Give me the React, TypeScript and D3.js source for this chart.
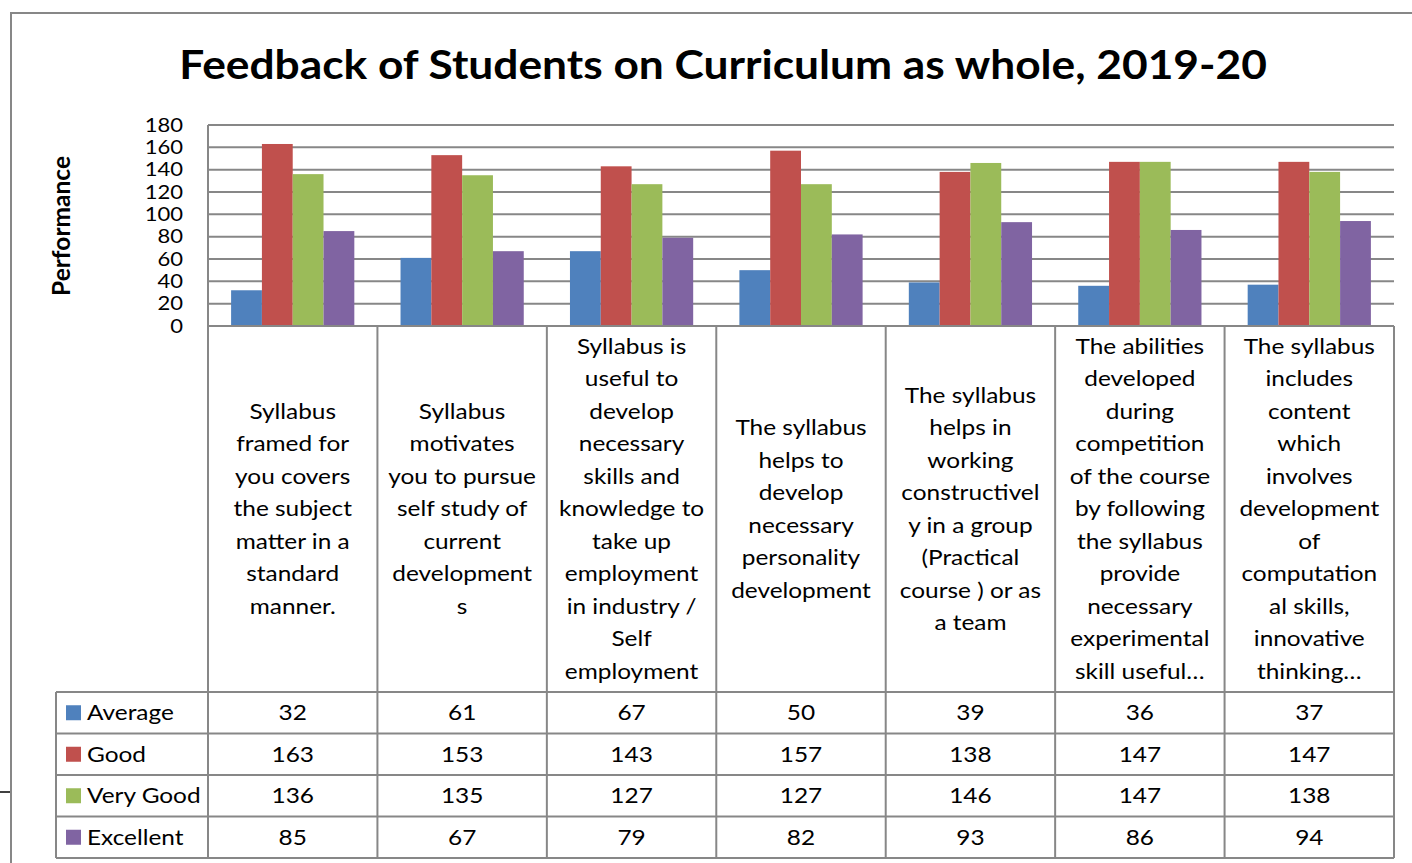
import React from 'react'
import * as d3 from 'd3'

const categories: string[][] = [
  ['Syllabus', 'framed for', 'you covers', 'the subject', 'matter in a', 'standard', 'manner.'],
  ['Syllabus', 'motivates', 'you to pursue', 'self study of', 'current', 'development', 's'],
  ['Syllabus is', 'useful to', 'develop', 'necessary', 'skills and', 'knowledge to', 'take up', 'employment', 'in industry /', 'Self', 'employment'],
  ['The syllabus', 'helps to', 'develop', 'necessary', 'personality', 'development'],
  ['The syllabus', 'helps in', 'working', 'constructivel', 'y in a group', '(Practical', 'course ) or as', 'a team'],
  ['The abilities', 'developed', 'during', 'competition', 'of the course', 'by following', 'the syllabus', 'provide', 'necessary', 'experimental', 'skill useful…'],
  ['The syllabus', 'includes', 'content', 'which', 'involves', 'development', 'of', 'computation', 'al skills,', 'innovative', 'thinking…'],
]

const seriesNames = ['Average', 'Good', 'Very Good', 'Excellent']
const seriesColors = ['#4F81BD', '#C0504D', '#9BBB59', '#8064A2']

const average = [32, 61, 67, 50, 39, 36, 37]
const good = [163, 153, 143, 157, 138, 147, 147]
const veryGood = [136, 135, 127, 127, 146, 147, 138]
const excellent = [85, 67, 79, 82, 93, 86, 94]

const yTicks = [0, 20, 40, 60, 80, 100, 120, 140, 160, 180]

const W = 1412
const H = 863
const FONT = 'Lato, "Open Sans", sans-serif'
const GRID = '#878787'
// the source picture is a little stretched sideways, so text is widened to match
const SX = 1.19

export default function App() {
  const series = [average, good, veryGood, excellent]
  const left = 208
  const right = 1394
  const plotTop = 125
  const plotBottom = 326
  const labelBottom = 692
  const rowH = (858 - labelBottom) / 4
  const legendLeft = 56

  const x = d3.scaleBand<number>().domain(d3.range(categories.length)).range([left, right]).padding(0)
  const xs = d3
    .scaleBand<number>()
    .domain(d3.range(series.length))
    .range([0, x.bandwidth()])
    .paddingInner(0)
    .paddingOuter(0.75)
  const y = d3.scaleLinear().domain([0, 180]).range([plotBottom, plotTop])

  const lineH = 32.5
  const labelMid = (plotBottom + labelBottom) / 2
  const at = (px: number, py: number, sx = SX) => `translate(${px},${py}) scale(${sx},1)`

  return (
    <svg
      width={W}
      height={H}
      style={{ position: 'absolute', left: 0, top: 0, background: '#fff' }}
      fontFamily={FONT}
    >
      <rect x={0} y={0} width={W} height={H} fill="#fff" />
      {/* outer frame, cropped at right/bottom */}
      <rect x={11} y={13} width={W + 20} height={H + 20} fill="none" stroke={GRID} strokeWidth={2} />
      <line x1={0} x2={10} y1={792} y2={792} stroke="#000" strokeWidth={1.5} />

      <text transform={at(723, 79, 1.08)} textAnchor="middle" fontSize={41} fontWeight={700} fill="#000">
        Feedback of Students on Curriculum as whole, 2019-20
      </text>

      <text
        transform={`translate(70,226) rotate(-90)`}
        textAnchor="middle"
        fontSize={24.5}
        fontWeight={700}
        fill="#000"
      >
        Performance
      </text>

      {/* gridlines + y ticks */}
      {yTicks.map((t) => (
        <g key={t}>
          {t > 0 && <line x1={left} x2={right} y1={y(t)} y2={y(t)} stroke={GRID} strokeWidth={2} />}
          <text transform={at(183, y(t))} dy="0.36em" textAnchor="end" fontSize={18.5} fill="#000">
            {t}
          </text>
        </g>
      ))}

      {/* bars */}
      {categories.map((_, i) => (
        <g key={i} transform={`translate(${x(i)},0)`}>
          {series.map((s, j) => (
            <rect
              key={j}
              x={xs(j)}
              y={y(s[i])}
              width={xs.bandwidth()}
              height={plotBottom - y(s[i])}
              fill={seriesColors[j]}
            />
          ))}
        </g>
      ))}

      {/* table lines */}
      <line x1={left} x2={right} y1={plotBottom} y2={plotBottom} stroke={GRID} strokeWidth={2} />
      <line x1={left} x2={left} y1={plotTop} y2={858} stroke={GRID} strokeWidth={2} />
      {d3.range(1, categories.length + 1).map((i) => (
        <line
          key={i}
          x1={left + i * x.step()}
          x2={left + i * x.step()}
          y1={plotBottom}
          y2={858}
          stroke={GRID}
          strokeWidth={2}
        />
      ))}
      {d3.range(0, 5).map((r) => (
        <line
          key={r}
          x1={legendLeft}
          x2={right}
          y1={labelBottom + r * rowH}
          y2={labelBottom + r * rowH}
          stroke={GRID}
          strokeWidth={2}
        />
      ))}
      <line x1={legendLeft} x2={legendLeft} y1={labelBottom} y2={858} stroke={GRID} strokeWidth={2} />

      {/* category labels */}
      {categories.map((lines, i) => {
        const cx = (x(i) as number) + x.bandwidth() / 2
        const first = labelMid - ((lines.length - 1) * lineH) / 2
        return (
          <text key={i} transform={at(cx, 0)} textAnchor="middle" fontSize={20.5} fill="#000">
            {lines.map((l, k) => (
              <tspan key={k} x={0} y={first + k * lineH} dy="0.36em">
                {l}
              </tspan>
            ))}
          </text>
        )
      })}

      {/* legend + values */}
      {seriesNames.map((name, j) => {
        const cy = labelBottom + j * rowH + rowH / 2
        return (
          <g key={name}>
            <rect x={66} y={cy - 7.5} width={15} height={15} fill={seriesColors[j]} />
            <text transform={at(87, cy)} dy="0.36em" fontSize={20.5} fill="#000">
              {name}
            </text>
            {series[j].map((v, i) => (
              <text
                key={i}
                transform={at((x(i) as number) + x.bandwidth() / 2, cy)}
                dy="0.36em"
                textAnchor="middle"
                fontSize={20.5}
                fill="#000"
              >
                {v}
              </text>
            ))}
          </g>
        )
      })}
    </svg>
  )
}
